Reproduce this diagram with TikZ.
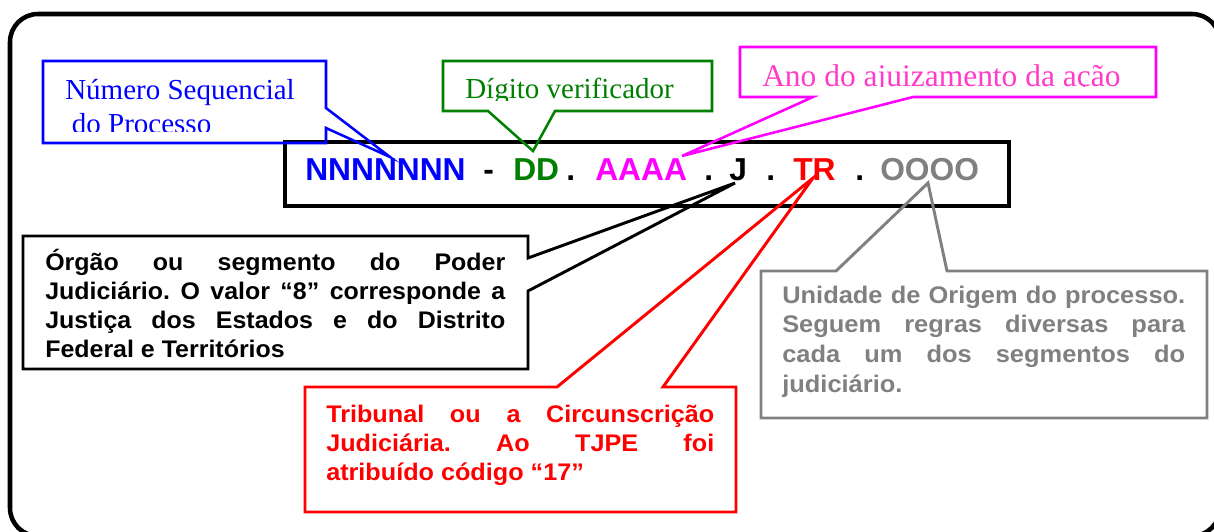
\documentclass[tikz,border=0pt]{standalone}
\usepackage{fontspec}
\setmainfont{Liberation Serif}
\newfontfamily\codefont{Liberation Sans}
\newfontfamily\blkfont[FakeStretch=1.04]{Liberation Sans}
\newfontfamily\redfont[FakeStretch=1.05]{Liberation Sans}
\newfontfamily\grayfont[FakeStretch=1.06]{Liberation Sans}
\definecolor{mag}{RGB}{255,0,255}
\definecolor{magtext}{RGB}{255,60,200}
\definecolor{grn}{RGB}{0,128,0}
\definecolor{gry}{RGB}{128,128,128}
\definecolor{blu}{RGB}{0,0,255}
\definecolor{rd}{RGB}{255,0,0}
\frenchspacing
\tikzset{
  codetxt/.style={anchor=base west, inner sep=0pt, font=\codefont\bfseries\fontsize{23.8pt}{26pt}\selectfont},
  lbl/.style={anchor=base west, inner sep=0pt},
  callout/.style={line width=1.9pt, line join=miter},
}
\begin{document}
\begin{tikzpicture}[x=0.75pt,y=-0.75pt]
\useasboundingbox (0,0) rectangle (1214,532);
% outer frame
\draw[line width=3.4pt, rounded corners=21pt] (10,14) rectangle (1220,536);
% code box
\node[draw, line width=3pt, minimum width=543pt, minimum height=48pt, anchor=north west, inner sep=0pt] (codebox) at (283,140) {};
% code parts
\node[codetxt, text=blu] (codeN) at (305,180) {NNNNNNN};
\node[codetxt] (dash) at (483,180) {-};
\node[codetxt, text=grn] (codeD) at (513,180) {DD};
\node[codetxt] (dot1) at (566,180) {.};
\node[codetxt, text=mag] (codeA) at (595,180) {AAAA};
\node[codetxt] (dot2) at (704,180) {.};
\node[codetxt] (codeJ) at (729,180) {J};
\node[codetxt] (dot3) at (766,180) {.};
\node[codetxt, text=rd] (codeTR) at (793,180) {TR};
\node[codetxt] (dot4) at (855,180) {.};
\node[codetxt, text=gry] (codeO) at (880,180) {OOOO};
% tips
\coordinate (tipN) at (390,157);
\coordinate (tipD) at (533,151);
\coordinate (tipA) at (682,156);
\coordinate (tipJ) at (735,183);
\coordinate (tipTR) at (813,178);
\coordinate (tipO) at (928,183);
% blue callout
\draw[callout, blu] (43,61) -- (326,61) -- (326,108) -- (tipN) -- (326,128) -- (326,143) -- (43,143) -- cycle;
\begin{scope}
\clip (43,61) rectangle (326,131);
\node[lbl, text=blu] (lblN) at (65,99) {\parbox[t]{260pt}{\fontsize{21.75pt}{25.5pt}\selectfont Número Sequencial\\\hspace*{5pt}do Processo}};
\end{scope}
% green callout
\draw[callout, grn] (443,61) -- (712,61) -- (712,111) -- (555,111) -- (tipD) -- (488,111) -- (443,111) -- cycle;
\begin{scope}
\clip (443,61) rectangle (712,100);
\node[lbl, text=grn, font=\fontsize{21.75pt}{25pt}\selectfont] (lblD) at (465,98) {Dígito verificador};
\end{scope}
% magenta callout
\draw[callout, mag] (740,47) -- (1156,47) -- (1156,97) -- (913,97) -- (tipA) -- (813,97) -- (740,97) -- cycle;
\begin{scope}
\clip (740,47) rectangle (1156,86);
\node[lbl, text=magtext, font=\fontsize{23.6pt}{26pt}\selectfont] (lblA) at (762,86) {Ano do ajuizamento da ação};
\end{scope}
% black callout
\draw[line width=2.2pt, black] (23,236) -- (528,236) -- (528,258) -- (tipJ) -- (528,291) -- (528,369) -- (23,369) -- cycle;
\node[lbl] (lblJ) at (45,270) {\parbox[t]{345pt}{\blkfont\bfseries\fontsize{18pt}{21.75pt}\selectfont
\makebox[\linewidth][s]{Órgão ou segmento do Poder}\\
\makebox[\linewidth][s]{Judiciário. O valor “8” corresponde a}\\
\makebox[\linewidth][s]{Justiça dos Estados e do Distrito}\\
Federal e Territórios}};
% red callout
\draw[line width=2.2pt, rd] (305,387) -- (557,387) -- (tipTR) -- (663,387) -- (736,387) -- (736,512) -- (305,512) -- cycle;
\node[lbl, text=rd] (lblTR) at (326,422) {\parbox[t]{291pt}{\redfont\bfseries\fontsize{18pt}{21.75pt}\selectfont
\makebox[\linewidth][s]{Tribunal ou a Circunscrição}\\
\makebox[\linewidth][s]{Judiciária. Ao TJPE foi}\\
atribuído código “17”}};
% gray callout
\draw[line width=2.2pt, gry] (761,271) -- (836,271) -- (tipO) -- (947,271) -- (1207,271) -- (1207,418) -- (761,418) -- cycle;
\node[lbl, text=gry] (lblO) at (782,303) {\parbox[t]{302.25pt}{\grayfont\bfseries\fontsize{18pt}{22.3pt}\selectfont
\makebox[\linewidth][s]{Unidade de Origem do processo.}\\
\makebox[\linewidth][s]{Seguem regras diversas para}\\
\makebox[\linewidth][s]{cada um dos segmentos do}\\
judiciário.}};
\end{tikzpicture}
\end{document}
